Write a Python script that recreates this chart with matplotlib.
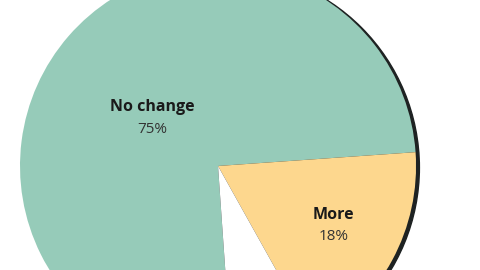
import numpy as np
import matplotlib
matplotlib.use("Agg")
import matplotlib.pyplot as plt
from matplotlib.patches import Circle

# slices, clockwise from the bottom
labels = ["No change", "More", "Less"]
shares = [75, 18, 7]
colors = ["#96cbb9", "#fdd78e", "#ffffff"]
show_label = [True, True, False]

plt.rcParams["font.family"] = ["Open Sans", "DejaVu Sans"]

fig = plt.figure(figsize=(4.8, 2.7), dpi=100)
ax = fig.add_axes([0, 0, 1, 1])
ax.set_aspect("equal")
ax.axis("off")

# dark rim on the right side, like a drop shadow
ax.add_patch(Circle((0.017, -0.008), 1.0, color="#1e2222", zorder=0))

wedges, _ = ax.pie(shares, colors=colors, startangle=-86, counterclock=False,
                   radius=1.0, wedgeprops=dict(linewidth=0, antialiased=True))
for w in wedges:
    w.set_zorder(1)

# text placement near each slice's mid angle
label_r = [0.41, 0.655, 0.8]
label_turn = [5, 1, 0]
for w, name, pct, r, turn, show in zip(wedges, labels, shares, label_r,
                                       label_turn, show_label):
    if not show:
        continue
    mid = np.deg2rad((w.theta1 + w.theta2) / 2 + turn)
    x, y = r * np.cos(mid), r * np.sin(mid)
    ax.text(x, y + 0.056, name, ha="center", va="center", fontsize=11.5,
            fontweight="bold", color="#1a1a1a", zorder=3)
    ax.text(x, y - 0.056, f"{pct}%", ha="center", va="center", fontsize=11,
            color="#333333", zorder=3)

ax.set_xlim(-1.101, 1.323)
ax.set_ylim(-0.525, 0.838)

fig.savefig("out.png", dpi=100)
